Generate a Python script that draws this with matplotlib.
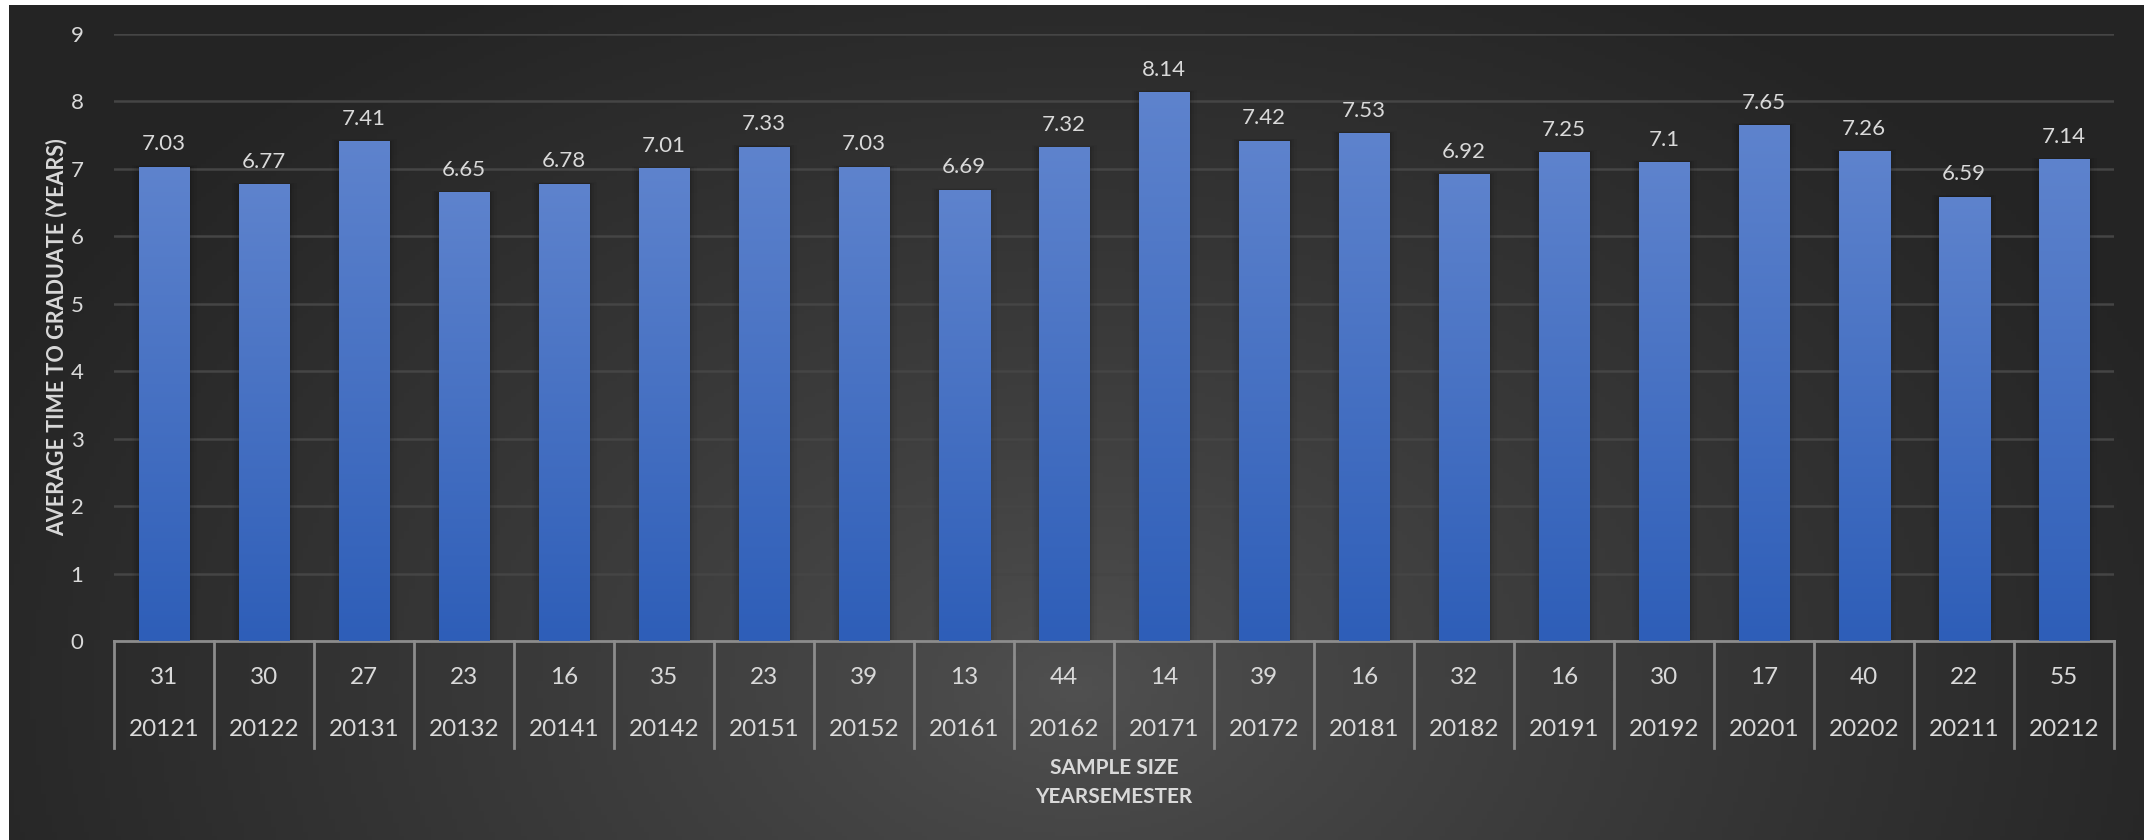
import matplotlib.pyplot as plt
import numpy as np
from matplotlib.transforms import blended_transform_factory

semesters = ["20121", "20122", "20131", "20132", "20141", "20142", "20151", "20152", "20161", "20162",
             "20171", "20172", "20181", "20182", "20191", "20192", "20201", "20202", "20211", "20212"]
sample_sizes = [31, 30, 27, 23, 16, 35, 23, 39, 13, 44, 14, 39, 16, 32, 16, 30, 17, 40, 22, 55]
avg_years = [7.03, 6.77, 7.41, 6.65, 6.78, 7.01, 7.33, 7.03, 6.69, 7.32,
             8.14, 7.42, 7.53, 6.92, 7.25, 7.1, 7.65, 7.26, 6.59, 7.14]

W, H = 2154, 840
FONT = ["Lato", "DejaVu Sans"]
TEXT = "#d9d9d9"
plt.rcParams["font.family"] = FONT

fig = plt.figure(figsize=(W / 100, H / 100), dpi=100, facecolor="white")

# dark card with a soft radial glow
bg = fig.add_axes([9 / W, 0, (2144 - 9) / W, (H - 5) / H])
bg.set_axis_off()
gx, gy = np.meshgrid(np.linspace(0, 1, 400), np.linspace(0, 1, 200))
d = np.sqrt(((gx - 0.50) / 0.55) ** 2 + ((gy - 0.82) / 0.95) ** 2)
shade = 0.315 - 0.17 * np.clip(d, 0, 1) ** 0.85
bg.imshow(np.dstack([shade] * 3), aspect="auto", extent=(0, 1, 1, 0))
bg.set_xlim(0, 1)
bg.set_ylim(1, 0)

left, right, top, zero = 114, 2114, 34, 641
ax = fig.add_axes([left / W, 1 - zero / H, (right - left) / W, (zero - top) / H])
ax.patch.set_alpha(0)
x = np.arange(len(semesters))
ax.set_yticks(range(10))
ax.yaxis.grid(True, color="#454545", linewidth=1.8)
ax.set_axisbelow(True)
ax.tick_params(axis="y", length=0, pad=22, labelsize=16, labelcolor=TEXT)
ax.set_xticks([])
for s in ["top", "right", "left"]:
    ax.spines[s].set_visible(False)
ax.spines["bottom"].set_color("#8c8c8c")
ax.spines["bottom"].set_linewidth(2)

# soft shadow behind the bars
for k, a in [(0.14, 0.04), (0.09, 0.05), (0.05, 0.06), (0.02, 0.07)]:
    ax.bar(x, np.array(avg_years) + k * 0.2, width=0.51 + k, color="black", alpha=a,
           linewidth=0, zorder=2)

bars = ax.bar(x, avg_years, width=0.51, color="none", linewidth=0, zorder=3)
top_c = np.array([94, 131, 205]) / 255
bot_c = np.array([46, 94, 184]) / 255
ramp = np.linspace(0, 1, 256)[:, None, None]
grad = top_c * (1 - ramp) + bot_c * ramp
for b, v in zip(bars, avg_years):
    im = ax.imshow(grad, aspect="auto", zorder=3,
                   extent=(b.get_x(), b.get_x() + b.get_width(), 0, v))
    im.set_clip_path(b)
    ax.annotate(f"{v:g}", (b.get_x() + b.get_width() / 2, v), xytext=(0, 9),
                textcoords="offset points", ha="center", va="bottom",
                fontsize=16, color=TEXT)
ax.set_xlim(-0.5, len(semesters) - 0.5)
ax.set_ylim(0, 9)

# two-level category axis
ph = zero - top
tr = blended_transform_factory(ax.transData, ax.transAxes)
for i, (n, s) in enumerate(zip(sample_sizes, semesters)):
    ax.text(i, -36 / ph, str(n), transform=tr, ha="center", va="center",
            fontsize=17.5, color=TEXT)
    ax.text(i, -89 / ph, s, transform=tr, ha="center", va="center",
            fontsize=17.5, color=TEXT)
for e in np.arange(-0.5, len(semesters), 1.0):
    ax.plot([e, e], [0, -107 / ph], transform=tr, color="#8c8c8c", linewidth=2,
            clip_on=False, zorder=4)

ax.text(0.5, -127 / ph, "SAMPLE SIZE", transform=ax.transAxes, ha="center", va="center",
        fontsize=15, fontweight="bold", color=TEXT)
ax.text(0.5, -156 / ph, "YEARSEMESTER", transform=ax.transAxes, ha="center", va="center",
        fontsize=15, fontweight="bold", color=TEXT)
fig.text(57 / W, 1 - 337 / H, "AVERAGE TIME TO GRADUATE (YEARS)", rotation=90,
         ha="center", va="center", fontsize=15.5, fontweight="bold", color=TEXT)

fig.savefig("out.png", dpi=100, facecolor="white")
